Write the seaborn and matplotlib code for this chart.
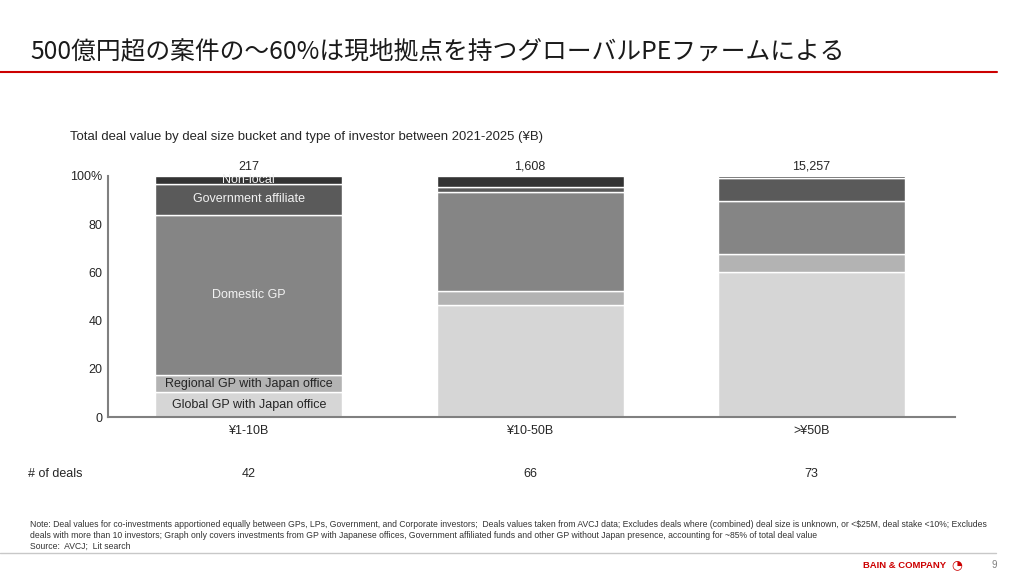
import numpy as np
import matplotlib
matplotlib.use("Agg")
import matplotlib.pyplot as plt
import seaborn as sns

# data (share of total deal value, %)
buckets = ["¥1-10B", "¥10-50B", ">¥50B"]
investor_types = ["Global GP with Japan office", "Regional GP with Japan office",
                  "Domestic GP", "Government affiliate", "Non-local"]
global_gp = [10.3, 46.3, 60.2]
regional_gp = [7.2, 6.0, 7.3]
domestic_gp = [66.5, 41.1, 22.0]
government = [12.8, 1.9, 9.5]
non_local = [3.2, 4.7, 1.0]
totals = ["217", "1,608", "15,257"]
num_deals = ["42", "66", "73"]

series = [global_gp, regional_gp, domestic_gp, government, non_local]
colors = ["#d6d6d6", "#b3b3b3", "#858585", "#5a5a5a", "#333333"]
label_colors = ["#262626", "#262626", "#f2f2f2", "#f2f2f2", "#f2f2f2"]

sns.set_theme(style="white")
plt.rcParams["font.family"] = ["Liberation Sans", "DejaVu Sans"]

W, H = 1024, 576
fig = plt.figure(figsize=(W / 100, H / 100), dpi=100)
ax = fig.add_axes([108 / W, 1 - 417 / H, (955 - 108) / W, (417 - 176) / H])

bottom = np.zeros(len(buckets))
for name, vals, col in zip(investor_types, series, colors):
    sns.barplot(x=buckets, y=vals, bottom=bottom, color=col, width=0.665,
                edgecolor="white", linewidth=1, ax=ax, order=buckets)
    bottom = bottom + np.array(vals)

# segment labels on the first bar
cum = 0
for name, vals, lc in zip(investor_types, series, label_colors):
    mid = cum + vals[0] / 2
    ax.text(0, mid, name, ha="center", va="center", fontsize=9, color=lc)
    cum += vals[0]

for i, t in enumerate(totals):
    ax.text(i, 101.3, t, ha="center", va="bottom", fontsize=9, color="#262626")

ax.set_xlim(-0.5, 2.51)
ax.set_ylim(0, 100)
ax.set_yticks([0, 20, 40, 60, 80, 100])
ax.set_yticklabels(["0", "20", "40", "60", "80", "100%"])
ax.tick_params(axis="both", length=0, labelsize=9, colors="#262626")
ax.tick_params(axis="x", pad=6)
ax.tick_params(axis="y", pad=4)
for s in ["top", "right"]:
    ax.spines[s].set_visible(False)
for s in ["left", "bottom"]:
    ax.spines[s].set_color("#808080")
    ax.spines[s].set_linewidth(1.5)
ax.set_xlabel("")
ax.set_ylabel("")

# number of deals row
tr = ax.get_xaxis_transform()
for i, n in enumerate(num_deals):
    ax.text(i, -0.2365, n, transform=tr, ha="center", va="center", fontsize=9, color="#262626")
fig.text(28 / W, 1 - 474 / H, "# of deals", ha="left", va="center", fontsize=9, color="#262626")

# title and rules
fig.text(30 / W, 1 - 51 / H, "500億円超の案件の～60%は現地拠点を持つグローバルPEファームによる",
         ha="left", va="center", fontsize=17.8, color="#1a1a1a",
         family=["Noto Sans CJK JP", "DejaVu Sans"])
fig.add_artist(plt.Line2D([0, 997 / W], [1 - 72 / H, 1 - 72 / H], color="#cc0000", lw=1.5))
fig.text(70 / W, 1 - 137 / H,
         "Total deal value by deal size bucket and type of investor between 2021-2025 (¥B)",
         ha="left", va="center", fontsize=9.45, color="#262626")

# footnote
note = ("Note: Deal values for co-investments apportioned equally between GPs, LPs, Government, and Corporate investors;  "
        "Deals values taken from AVCJ data; Excludes deals where (combined) deal size is unknown, or <$25M, deal stake <10%; Excludes\n"
        "deals with more than 10 investors; Graph only covers investments from GP with Japanese offices, Government affiliated funds "
        "and other GP without Japan presence, accounting for ~85% of total deal value")
fig.text(30 / W, 1 - 520 / H, note, ha="left", va="top", fontsize=6.25, color="#333333", linespacing=1.3)
fig.text(30 / W, 1 - 546 / H, "Source:  AVCJ;  Lit search", ha="left", va="center", fontsize=6.25, color="#333333")
fig.add_artist(plt.Line2D([0, 996 / W], [1 - 553 / H, 1 - 553 / H], color="#c8c8c8", lw=1))
fig.text(946 / W, 1 - 565 / H, "BAIN & COMPANY", ha="right", va="center", fontsize=6.8,
         color="#cc0000", fontweight="bold")
fig.text(957 / W, 1 - 565 / H, "◔", ha="center", va="center", fontsize=9, color="#cc0000",
         family=["DejaVu Sans"])
fig.text(997 / W, 1 - 565 / H, "9", ha="right", va="center", fontsize=7, color="#808080")

fig.savefig("out.png", dpi=100)
